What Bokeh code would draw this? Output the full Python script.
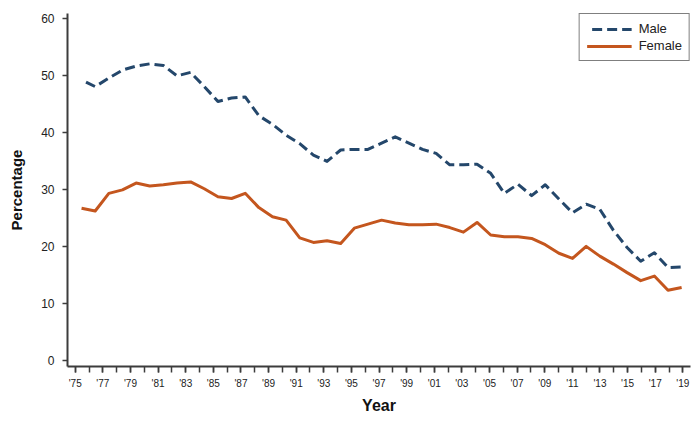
from bokeh.plotting import figure
from bokeh.models import Range1d, LinearAxis, FixedTicker, ColumnDataSource
from bokeh.embed import file_html
from bokeh.resources import INLINE

years = [1975, 1976, 1977, 1978, 1979, 1980, 1981, 1982, 1983, 1984,
         1985, 1986, 1987, 1988, 1989, 1990, 1991, 1992, 1993, 1994,
         1995, 1996, 1997, 1998, 1999, 2000, 2001, 2002, 2003, 2004,
         2005, 2006, 2007, 2008, 2009, 2010, 2011, 2012, 2013, 2014,
         2015, 2016, 2017, 2018, 2019]

male = [49.2, 48.0, 49.5, 50.9, 51.6, 52.0, 51.7, 49.9, 50.5, 48.0,
        45.4, 46.0, 46.2, 42.9, 41.4, 39.5, 38.0, 36.0, 34.9, 36.9,
        37.0, 37.0, 38.1, 39.2, 38.1, 37.0, 36.3, 34.3, 34.3, 34.4,
        32.8, 29.3, 30.9, 28.9, 30.8, 28.3, 25.9, 27.4, 26.5, 22.8,
        19.8, 17.4, 18.9, 16.3, 16.4]

female = [26.7, 26.2, 29.3, 29.9, 31.1, 30.6, 30.8, 31.1, 31.3, 30.1,
          28.7, 28.4, 29.3, 26.8, 25.2, 24.6, 21.5, 20.7, 21.0, 20.5,
          23.2, 23.9, 24.6, 24.1, 23.8, 23.8, 23.9, 23.3, 22.5, 24.2,
          22.0, 21.7, 21.7, 21.4, 20.3, 18.8, 17.9, 20.0, 18.3, 16.9,
          15.4, 14.0, 14.8, 12.3, 12.8]

tick_years = [1975, 1977, 1979, 1981, 1983, 1985, 1987, 1989, 1991, 1993,
              1995, 1997, 1999, 2001, 2003, 2005, 2007, 2009, 2011, 2013,
              2015, 2017, 2019]
tick_labels = ["'75", "'77", "'79", "'81", "'83", "'85", "'87", "'89", "'91", "'93",
               "'95", "'97", "'99", "'01", "'03", "'05", "'07", "'09", "'11", "'13",
               "'15", "'17", "'19"]
y_ticks = [0, 10, 20, 30, 40, 50, 60]

MALE_COLOR = "#24476B"
FEMALE_COLOR = "#C4561E"
AXIS_COLOR = "#3C3C3C"
FONT = "Liberation Sans"

source = ColumnDataSource(dict(year=years, male=male, female=female))

p = figure(width=692, height=417, output_backend="svg", toolbar_location=None,
           x_range=Range1d(1973.97, 2019.65), y_range=Range1d(-1.05, 60.82),
           x_axis_type=None,
           min_border_left=67, min_border_right=2, min_border_top=13, min_border_bottom=51)
p.extra_x_ranges = {"ticks": Range1d(1974.44, 2019.555)}
p.outline_line_color = None
p.grid.visible = False

p.line("year", "male", source=source, line_color=MALE_COLOR, line_width=3,
       line_dash="10 5", line_dash_offset=10, line_join="round", legend_label="Male")
p.line("year", "female", source=source, line_color=FEMALE_COLOR, line_width=3,
       line_join="round", legend_label="Female")

xaxis = LinearAxis(x_range_name="ticks",
                   ticker=FixedTicker(ticks=tick_years, minor_ticks=years),
                   major_label_overrides={y: l for y, l in zip(tick_years, tick_labels)})
xaxis.axis_label = "Year"
xaxis.axis_label_text_font = FONT
xaxis.axis_label_text_font_style = "bold"
xaxis.axis_label_text_font_size = "16px"
xaxis.axis_label_text_color = "#111111"
xaxis.axis_label_standoff = 5
xaxis.major_label_text_font = FONT
xaxis.major_label_text_font_size = "10px"
xaxis.major_label_text_color = "#222222"
xaxis.major_label_standoff = 5
xaxis.axis_line_color = AXIS_COLOR
xaxis.axis_line_width = 2
xaxis.major_tick_line_color = AXIS_COLOR
xaxis.minor_tick_line_color = AXIS_COLOR
xaxis.major_tick_line_width = 1.5
xaxis.minor_tick_line_width = 1.5
xaxis.major_tick_in = 0
xaxis.major_tick_out = 6
xaxis.minor_tick_in = 0
xaxis.minor_tick_out = 6
p.add_layout(xaxis, "below")

yaxis = p.yaxis[0]
yaxis.ticker = FixedTicker(ticks=y_ticks)
yaxis.axis_label = "Percentage"
yaxis.axis_label_text_font = FONT
yaxis.axis_label_text_font_style = "bold"
yaxis.axis_label_text_font_size = "15px"
yaxis.axis_label_text_color = "#111111"
yaxis.axis_label_standoff = 13
yaxis.major_label_text_font = FONT
yaxis.major_label_text_font_size = "12px"
yaxis.major_label_text_color = "#222222"
yaxis.major_label_standoff = 8
yaxis.axis_line_color = AXIS_COLOR
yaxis.axis_line_width = 2
yaxis.major_tick_line_color = AXIS_COLOR
yaxis.major_tick_line_width = 1.5
yaxis.major_tick_in = 0
yaxis.major_tick_out = 5
yaxis.minor_tick_line_color = None

lg = p.legend[0]
lg.location = "top_right"
lg.margin = 0
lg.padding = 7
lg.spacing = 2
lg.border_line_color = "black"
lg.border_line_width = 1.5
lg.background_fill_color = "white"
lg.background_fill_alpha = 1
lg.label_text_font = FONT
lg.label_text_font_size = "13px"
lg.label_text_color = "#222222"
lg.glyph_width = 45
lg.glyph_height = 14
lg.label_height = 14
lg.label_standoff = 7

open("out.html", "w").write(file_html(p, INLINE))
